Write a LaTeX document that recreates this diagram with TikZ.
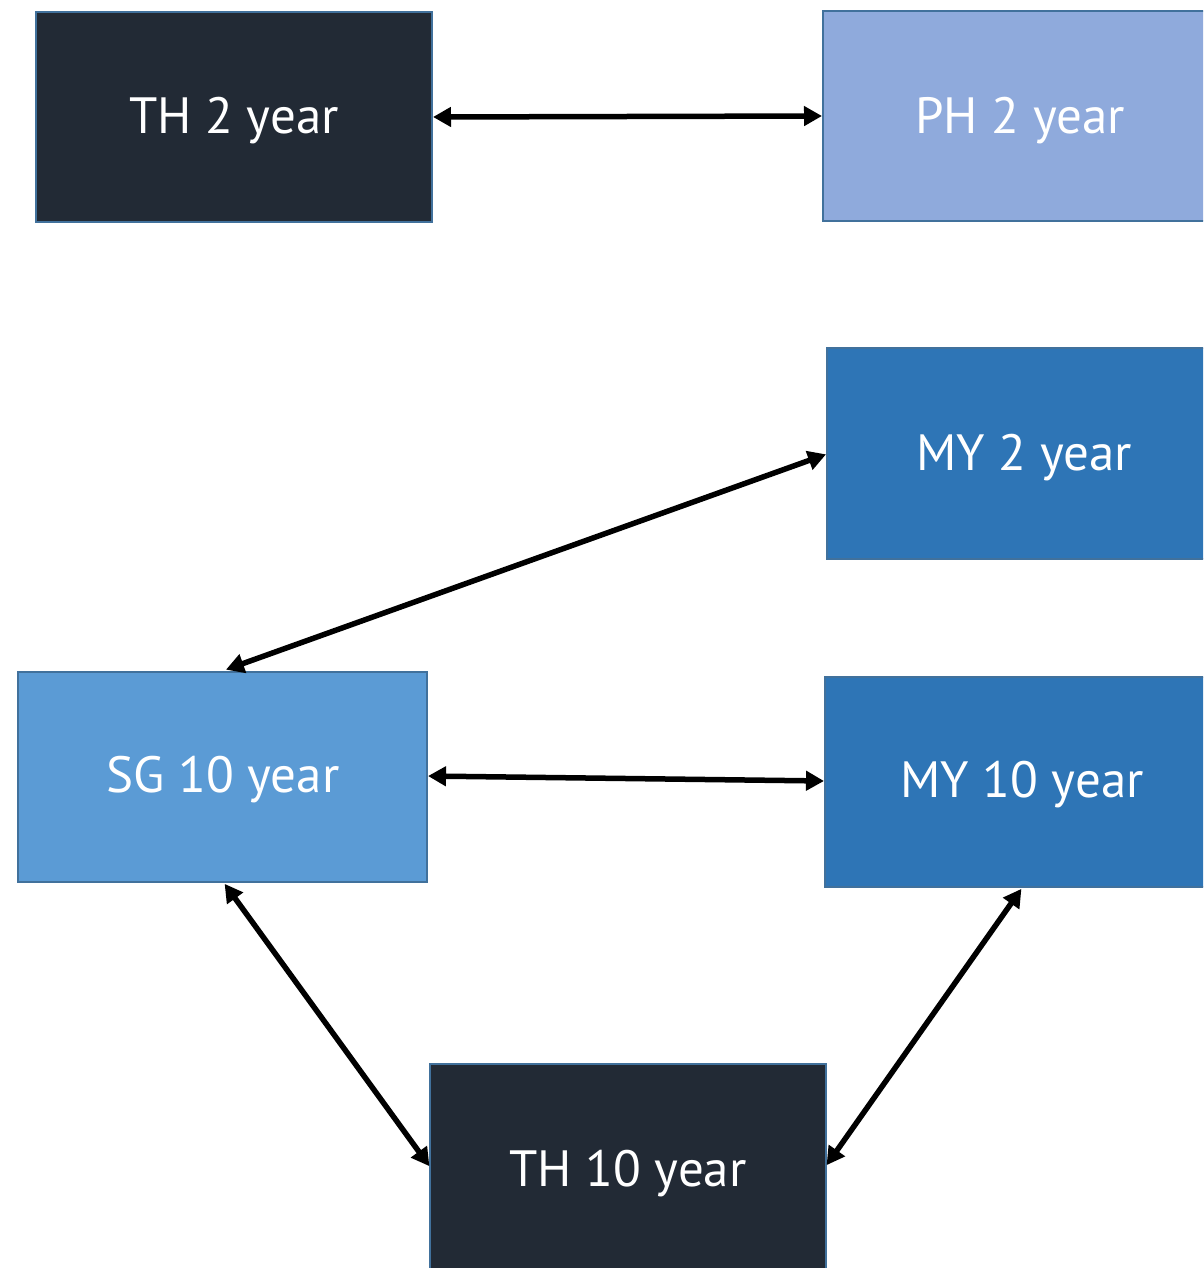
\documentclass[tikz,border=0pt]{standalone}
\usepackage{fontspec}
\setmainfont{PT Sans}
\usetikzlibrary{arrows.meta}
\definecolor{dark}{HTML}{222A35}
\definecolor{pale}{HTML}{8FAADC}
\definecolor{mid}{HTML}{2E75B6}
\definecolor{lite}{HTML}{5B9BD5}
\definecolor{edge}{HTML}{41719C}
\tikzset{
  box/.style={draw=edge, line width=2pt},
  lbl/.style={text=white, font=\fontsize{51}{60}\selectfont},
  link/.style={line width=5.5pt, {Triangle[length=18pt,width=19pt]}-{Triangle[length=18pt,width=19pt]}, shorten <=1pt, shorten >=1pt}
}
\begin{document}
\begin{tikzpicture}[x=1pt,y=-1pt]
\useasboundingbox (0,0) rectangle (1203,1268);
\begin{scope}
\clip (0,0) rectangle (1203,1268);
\draw[box, fill=dark] (36,12) rectangle (432,222);
\draw[box, fill=pale] (823,11) rectangle (1215,221);
\draw[box, fill=mid] (827,348) rectangle (1215,559);
\draw[box, fill=lite] (18,672) rectangle (427,882);
\draw[box, fill=mid] (825,677) rectangle (1215,887);
\draw[box, fill=dark] (430,1064) rectangle (826,1280);
\end{scope}
\node[lbl] (th2) at (234,121) {TH 2 year};
\node[lbl] (ph2) at (1020,121) {PH 2 year};
\node[lbl] (my2) at (1024,458) {MY 2 year};
\node[lbl] (sg10) at (223,780) {SG 10 year};
\node[lbl] (my10) at (1022,785) {MY 10 year};
\node[lbl] (th10) at (628,1174) {TH 10 year};
\coordinate (a1) at (432,117);
\coordinate (a2) at (823,116);
\coordinate (b1) at (827,454);
\coordinate (b2) at (225,670);
\coordinate (c1) at (427,776);
\coordinate (c2) at (825,781);
\coordinate (d1) at (224,883);
\coordinate (d2) at (430,1167);
\coordinate (e1) at (1022,888);
\coordinate (e2) at (826,1166);
\draw[link] (a1) -- (a2);
\draw[link] (b1) -- (b2);
\draw[link] (c1) -- (c2);
\draw[link] (d1) -- (d2);
\draw[link] (e1) -- (e2);
\end{tikzpicture}
\end{document}
